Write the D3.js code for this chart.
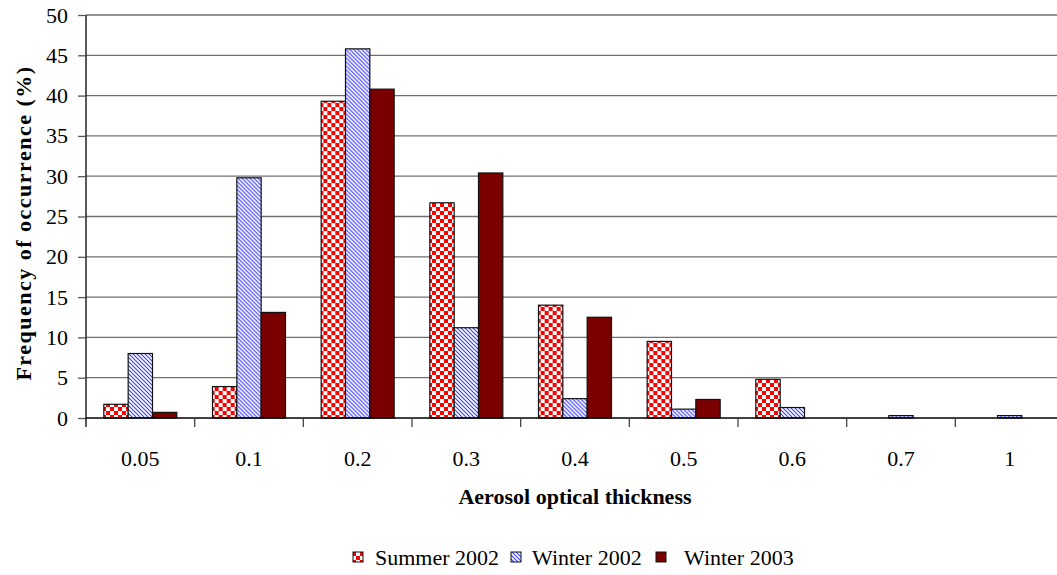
<!DOCTYPE html>
<html>
<head>
<meta charset="utf-8">
<script src="https://cdn.jsdelivr.net/npm/d3@7"></script>
<style>
  html, body { margin: 0; padding: 0; background: #fff; overflow: hidden; }
  svg { display: block; font-family: "Liberation Serif", "Times New Roman", serif; }
</style>
</head>
<body>
<svg id="chart" width="1057" height="575"></svg>
<script>
// Aerosol optical thickness classes
const categories = ["0.05", "0.1", "0.2", "0.3", "0.4", "0.5", "0.6", "0.7", "1"];
const seriesNames = ["Summer 2002", "Winter 2002", "Winter 2003"];
// Frequency of occurrence (%) per class
const summer2002 = [1.7, 3.9, 39.3, 26.7, 14.0, 9.5, 4.8, 0, 0];
const winter2002 = [8.0, 29.8, 45.8, 11.2, 2.4, 1.1, 1.3, 0.3, 0.3];
const winter2003 = [0.7, 13.1, 40.8, 30.4, 12.5, 2.3, 0, 0, 0];
const yTicks = [0, 5, 10, 15, 20, 25, 30, 35, 40, 45, 50];

const seriesValues = [summer2002, winter2002, winter2003];
const fills = ["url(#checker)", "url(#hatch)", "#7a0000"];

const svg = d3.select("#chart");
const margin = { left: 86, top: 15 };
const plotW = 978;             // plot runs past the right edge of the page
const plotH = 403;
const FS = 22;

// Fill patterns
const defs = svg.append("defs");
const checker = defs.append("pattern").attr("id", "checker")
  .attr("patternUnits", "userSpaceOnUse").attr("width", 8).attr("height", 8);
checker.append("rect").attr("width", 8).attr("height", 8).attr("fill", "#fff");
checker.append("rect").attr("width", 4).attr("height", 4).attr("fill", "#ff0000");
checker.append("rect").attr("x", 4).attr("y", 4).attr("width", 4).attr("height", 4).attr("fill", "#ff0000");

const hatch = defs.append("pattern").attr("id", "hatch")
  .attr("patternUnits", "userSpaceOnUse").attr("width", 4).attr("height", 4);
hatch.append("rect").attr("width", 4).attr("height", 4).attr("fill", "#fff");
hatch.append("path").attr("d", "M-1,-1 L5,5 M-1,3 L1,5 M3,-1 L5,1")
  .attr("stroke", "#3a3aff").attr("stroke-width", 1.1);

const g = svg.append("g").attr("transform", `translate(${margin.left},${margin.top})`);

const x = d3.scaleBand().domain(categories).range([0, plotW]).paddingInner(0).paddingOuter(0);
const y = d3.scaleLinear().domain([0, 50]).range([plotH, 0]);
const groupW = 73;
const xs = d3.scaleBand().domain(seriesNames).range([(x.bandwidth() - groupW) / 2, (x.bandwidth() + groupW) / 2]);

// Horizontal grid lines
g.append("g").selectAll("line").data(yTicks.filter(d => d > 0)).join("line")
  .attr("x1", 0).attr("x2", plotW + 10)
  .attr("y1", d => y(d)).attr("y2", d => y(d))
  .attr("stroke", "#707070").attr("stroke-width", 1.3);

// Bars
const groups = g.append("g").selectAll("g").data(categories).join("g")
  .attr("transform", d => `translate(${x(d)},0)`);
groups.selectAll("rect")
  .data((c, i) => seriesNames.map((s, k) => ({ s, k, v: seriesValues[k][i] })).filter(d => d.v > 0))
  .join("rect")
  .attr("x", d => xs(d.s))
  .attr("width", xs.bandwidth())
  .attr("y", d => y(d.v))
  .attr("height", d => y(0) - y(d.v))
  .attr("fill", d => fills[d.k])
  .attr("stroke", "#111")
  .attr("stroke-width", 1.2);

// Y axis
const yAxis = g.append("g").call(d3.axisLeft(y).tickValues(yTicks).tickSize(8).tickPadding(10));
yAxis.select(".domain").attr("stroke", "#000").attr("stroke-width", 1.3).attr("d", `M0,${plotH}V0`);
yAxis.selectAll(".tick line").attr("stroke", "#555").attr("stroke-width", 1.3);
yAxis.selectAll(".tick text").attr("font-size", FS).attr("fill", "#000")
  .attr("font-family", "Liberation Serif, serif");

// X axis: baseline, separators between classes, labels centred
const xAxisG = g.append("g").attr("transform", `translate(0,${plotH})`);
xAxisG.append("line").attr("x1", 0).attr("x2", plotW + 10).attr("stroke", "#000").attr("stroke-width", 1.5);
xAxisG.selectAll("line.sep").data(d3.range(categories.length + 1)).join("line")
  .attr("class", "sep")
  .attr("x1", i => i * x.step()).attr("x2", i => i * x.step())
  .attr("y1", 0).attr("y2", 9)
  .attr("stroke", (d, i) => i === 0 ? "#000" : "#444").attr("stroke-width", 1.3);
xAxisG.selectAll("text").data(categories).join("text")
  .attr("x", d => x(d) + x.bandwidth() / 2)
  .attr("y", 48)
  .attr("text-anchor", "middle")
  .attr("font-size", FS)
  .text(d => d);

// Axis titles
svg.append("text").attr("x", margin.left + plotW / 2).attr("y", 504).attr("text-anchor", "middle")
  .attr("font-size", FS).attr("font-weight", "bold").text("Aerosol optical thickness");
svg.append("text").attr("transform", "translate(31,223) rotate(-90)").attr("text-anchor", "middle")
  .attr("font-size", FS).attr("font-weight", "bold").attr("letter-spacing", 1.5)
  .text("Frequency of occurrence (%)");

// Legend
const legendPos = [{ sx: 353, tx: 375 }, { sx: 511, tx: 532 }, { sx: 656, tx: 684 }];
const legend = svg.append("g");
seriesNames.forEach((name, k) => {
  legend.append("rect").attr("x", legendPos[k].sx).attr("y", 552).attr("width", 10).attr("height", 10)
    .attr("fill", fills[k]).attr("stroke", "#111").attr("stroke-width", 1);
  legend.append("text").attr("x", legendPos[k].tx).attr("y", 565).attr("font-size", FS).text(name);
});
</script>
</body>
</html>
